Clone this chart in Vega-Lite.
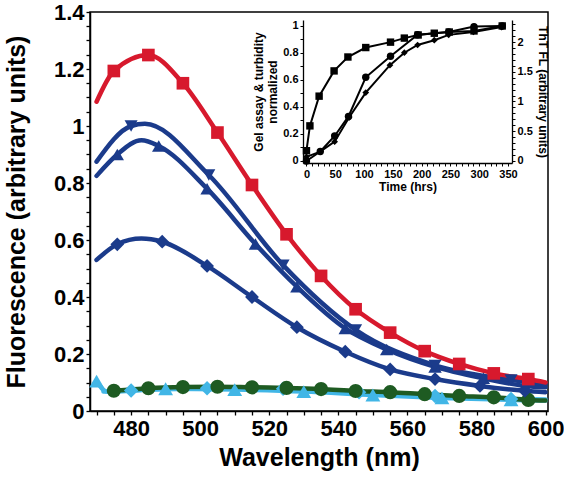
{
  "$schema": "https://vega.github.io/schema/vega-lite/v6.json",
  "width": 458,
  "height": 399,
  "autosize": {"type": "none"},
  "padding": {"left": 90, "top": 12, "right": 16, "bottom": 69},
  "background": "white",
  "config": {
    "view": {"stroke": "black", "strokeWidth": 1.5},
    "axis": {
      "labelFont": "Liberation Sans", "titleFont": "Liberation Sans",
      "labelFontWeight": "bold", "titleFontWeight": "bold",
      "labelColor": "black", "titleColor": "black",
      "domainColor": "black", "tickColor": "black", "grid": false,
      "labelOverlap": false, "labelFlush": false
    }
  },
  "datasets": {
    "main": [
      {"s": "s1", "wl": 470, "f": 0.105, "m": 1},
      {"s": "s1", "wl": 473, "f": 0.068, "m": 0},
      {"s": "s1", "wl": 490, "f": 0.078, "m": 1},
      {"s": "s1", "wl": 510, "f": 0.075, "m": 1},
      {"s": "s1", "wl": 530, "f": 0.068, "m": 1},
      {"s": "s1", "wl": 550, "f": 0.056, "m": 1},
      {"s": "s1", "wl": 570, "f": 0.046, "m": 1},
      {"s": "s1", "wl": 590, "f": 0.039, "m": 1},
      {"s": "s1", "wl": 600, "f": 0.037, "m": 0},
      {"s": "s2", "wl": 472, "f": 0.068, "m": 0},
      {"s": "s2", "wl": 480, "f": 0.072, "m": 1},
      {"s": "s2", "wl": 502, "f": 0.08, "m": 1},
      {"s": "s2", "wl": 524, "f": 0.078, "m": 1},
      {"s": "s2", "wl": 546, "f": 0.066, "m": 1},
      {"s": "s2", "wl": 568, "f": 0.053, "m": 1},
      {"s": "s2", "wl": 590, "f": 0.042, "m": 1},
      {"s": "s2", "wl": 600, "f": 0.04, "m": 0},
      {"s": "s3", "wl": 475, "f": 0.071, "m": 1},
      {"s": "s3", "wl": 485, "f": 0.08, "m": 1},
      {"s": "s3", "wl": 495, "f": 0.084, "m": 1},
      {"s": "s3", "wl": 505, "f": 0.085, "m": 1},
      {"s": "s3", "wl": 515, "f": 0.083, "m": 1},
      {"s": "s3", "wl": 525, "f": 0.081, "m": 1},
      {"s": "s3", "wl": 535, "f": 0.077, "m": 1},
      {"s": "s3", "wl": 545, "f": 0.07, "m": 1},
      {"s": "s3", "wl": 555, "f": 0.066, "m": 1},
      {"s": "s3", "wl": 565, "f": 0.059, "m": 1},
      {"s": "s3", "wl": 575, "f": 0.053, "m": 1},
      {"s": "s3", "wl": 585, "f": 0.048, "m": 1},
      {"s": "s3", "wl": 595, "f": 0.039, "m": 1},
      {"s": "s3", "wl": 600, "f": 0.037, "m": 0},
      {"s": "s4", "wl": 470, "f": 0.53, "m": 0},
      {"s": "s4", "wl": 476, "f": 0.585, "m": 1},
      {"s": "s4", "wl": 483, "f": 0.605, "m": 0},
      {"s": "s4", "wl": 489, "f": 0.594, "m": 1},
      {"s": "s4", "wl": 502, "f": 0.509, "m": 1},
      {"s": "s4", "wl": 515, "f": 0.4, "m": 1},
      {"s": "s4", "wl": 528, "f": 0.294, "m": 1},
      {"s": "s4", "wl": 542, "f": 0.208, "m": 1},
      {"s": "s4", "wl": 555, "f": 0.146, "m": 1},
      {"s": "s4", "wl": 568, "f": 0.112, "m": 1},
      {"s": "s4", "wl": 581, "f": 0.088, "m": 1},
      {"s": "s4", "wl": 594, "f": 0.071, "m": 1},
      {"s": "s4", "wl": 600, "f": 0.066, "m": 0},
      {"s": "s5", "wl": 470, "f": 0.825, "m": 0},
      {"s": "s5", "wl": 476, "f": 0.9, "m": 1},
      {"s": "s5", "wl": 483, "f": 0.95, "m": 0},
      {"s": "s5", "wl": 488, "f": 0.93, "m": 1},
      {"s": "s5", "wl": 502, "f": 0.78, "m": 1},
      {"s": "s5", "wl": 516, "f": 0.586, "m": 1},
      {"s": "s5", "wl": 528, "f": 0.436, "m": 1},
      {"s": "s5", "wl": 542, "f": 0.29, "m": 1},
      {"s": "s5", "wl": 554, "f": 0.216, "m": 1},
      {"s": "s5", "wl": 568, "f": 0.155, "m": 1},
      {"s": "s5", "wl": 582, "f": 0.115, "m": 1},
      {"s": "s5", "wl": 594, "f": 0.088, "m": 1},
      {"s": "s5", "wl": 600, "f": 0.083, "m": 0},
      {"s": "s6", "wl": 470, "f": 0.875, "m": 0},
      {"s": "s6", "wl": 480, "f": 1.0, "m": 1},
      {"s": "s6", "wl": 484, "f": 1.008, "m": 0},
      {"s": "s6", "wl": 502.5, "f": 0.828, "m": 1},
      {"s": "s6", "wl": 524, "f": 0.512, "m": 1},
      {"s": "s6", "wl": 545, "f": 0.285, "m": 1},
      {"s": "s6", "wl": 568, "f": 0.16, "m": 1},
      {"s": "s6", "wl": 590, "f": 0.109, "m": 1},
      {"s": "s6", "wl": 600, "f": 0.095, "m": 0},
      {"s": "s7", "wl": 470, "f": 1.085, "m": 0},
      {"s": "s7", "wl": 475, "f": 1.193, "m": 1},
      {"s": "s7", "wl": 485, "f": 1.249, "m": 1},
      {"s": "s7", "wl": 495, "f": 1.15, "m": 1},
      {"s": "s7", "wl": 505, "f": 0.977, "m": 1},
      {"s": "s7", "wl": 515, "f": 0.793, "m": 1},
      {"s": "s7", "wl": 525, "f": 0.62, "m": 1},
      {"s": "s7", "wl": 535, "f": 0.474, "m": 1},
      {"s": "s7", "wl": 545, "f": 0.357, "m": 1},
      {"s": "s7", "wl": 555, "f": 0.275, "m": 1},
      {"s": "s7", "wl": 565, "f": 0.21, "m": 1},
      {"s": "s7", "wl": 575, "f": 0.165, "m": 1},
      {"s": "s7", "wl": 585, "f": 0.132, "m": 1},
      {"s": "s7", "wl": 595, "f": 0.112, "m": 1},
      {"s": "s7", "wl": 600, "f": 0.1, "m": 0}
    ],
    "inset": [
      {"s": "sq", "t": 0, "v": 0.076},
      {"s": "sq", "t": 6, "v": 0.26},
      {"s": "sq", "t": 22, "v": 0.48},
      {"s": "sq", "t": 48, "v": 0.667},
      {"s": "sq", "t": 72, "v": 0.77},
      {"s": "sq", "t": 103, "v": 0.84},
      {"s": "sq", "t": 146, "v": 0.88},
      {"s": "sq", "t": 170, "v": 0.91},
      {"s": "sq", "t": 194, "v": 0.933},
      {"s": "sq", "t": 222, "v": 0.946},
      {"s": "sq", "t": 248, "v": 0.955},
      {"s": "sq", "t": 291, "v": 0.963},
      {"s": "sq", "t": 340, "v": 1.0},
      {"s": "ci", "t": 0, "v": 0.0},
      {"s": "ci", "t": 24, "v": 0.07},
      {"s": "ci", "t": 49, "v": 0.185},
      {"s": "ci", "t": 73, "v": 0.33},
      {"s": "ci", "t": 103, "v": 0.62},
      {"s": "ci", "t": 146, "v": 0.775},
      {"s": "ci", "t": 193, "v": 0.935},
      {"s": "ci", "t": 247, "v": 0.955},
      {"s": "ci", "t": 291, "v": 0.995},
      {"s": "ci", "t": 340, "v": 1.0},
      {"s": "di", "t": 0, "v": 0.07},
      {"s": "di", "t": 24, "v": 0.157},
      {"s": "di", "t": 49, "v": 0.325},
      {"s": "di", "t": 74, "v": 0.73},
      {"s": "di", "t": 103, "v": 1.15},
      {"s": "di", "t": 145, "v": 1.61},
      {"s": "di", "t": 170, "v": 1.82},
      {"s": "di", "t": 193, "v": 1.95},
      {"s": "di", "t": 222, "v": 2.03},
      {"s": "di", "t": 247, "v": 2.12},
      {"s": "di", "t": 290, "v": 2.17},
      {"s": "di", "t": 339, "v": 2.25}
    ]
  },
  "layer": [
    {
      "data": {"name": "main"},
      "encoding": {
        "x": {
          "field": "wl", "type": "quantitative",
          "scale": {"domain": [468.1, 600.7], "nice": false, "zero": false},
          "axis": {
            "orient": "bottom",
            "values": [470,475,480,485,490,495,500,505,510,515,520,525,530,535,540,545,550,555,560,565,570,575,580,585,590,595,600],
            "labelExpr": "datum.value % 20 == 0 ? datum.label : ''",
            "format": "d",
            "title": "Wavelength (nm)",
            "tickSize": 4, "tickWidth": 1.3, "domainWidth": 1.5,
            "labelFontSize": 22, "titleFontSize": 25,
            "labelPadding": 3, "titlePadding": 6
          }
        },
        "y": {
          "field": "f", "type": "quantitative",
          "scale": {"domain": [0, 1.4], "nice": false},
          "axis": {
            "orient": "left",
            "values": [0,0.05,0.1,0.15,0.2,0.25,0.3,0.35,0.4,0.45,0.5,0.55,0.6,0.65,0.7,0.75,0.8,0.85,0.9,0.95,1,1.05,1.1,1.15,1.2,1.25,1.3,1.35,1.4],
            "labelExpr": "round(datum.value*100) % 20 == 0 ? datum.label : ''",
            "format": "~g",
            "title": "Fluorescence (arbitrary units)",
            "tickSize": 4, "tickWidth": 1.3, "domainWidth": 1.5,
            "labelFontSize": 22, "titleFontSize": 25,
            "labelPadding": 2, "titlePadding": 24
          }
        },
        "color": {
          "field": "s", "type": "nominal", "legend": null,
          "scale": {
            "domain": ["s1","s2","s3","s4","s5","s6","s7"],
            "range": ["#41b6e6","#41b6e6","#1e5b22","#1b3b8b","#1b3b8b","#1b3b8b","#d7192d"]
          }
        }
      },
      "layer": [
        {
          "mark": {"type": "line", "interpolate": "monotone", "strokeCap": "round", "strokeJoin": "round"},
          "encoding": {
            "strokeWidth": {
              "field": "s", "type": "nominal", "legend": null,
              "scale": {"domain": ["s1","s2","s3","s4","s5","s6","s7"], "range": [4.5,4.5,1.6,4,4,4,4]}
            }
          }
        },
        {
          "transform": [{"filter": "datum.m == 1"}],
          "mark": {"type": "point", "filled": true, "opacity": 1},
          "encoding": {
            "shape": {
              "field": "s", "type": "nominal", "legend": null,
              "scale": {"domain": ["s1","s2","s3","s4","s5","s6","s7"], "range": ["triangle-up","diamond","circle","diamond","triangle-up","triangle-down","square"]}
            },
            "size": {
              "field": "s", "type": "nominal", "legend": null,
              "scale": {"domain": ["s1","s2","s3","s4","s5","s6","s7"], "range": [220,160,170,240,290,290,210]}
            }
          }
        }
      ]
    },
    {
      "data": {"name": "inset"},
      "encoding": {
        "x": {
          "field": "t", "type": "quantitative",
          "scale": {"domain": [-6, 357], "range": [213, 422], "nice": false, "zero": false},
          "axis": {
            "orient": "bottom", "offset": -248,
            "values": [0,10,20,30,40,50,60,70,80,90,100,110,120,130,140,150,160,170,180,190,200,210,220,230,240,250,260,270,280,290,300,310,320,330,340,350],
            "labelExpr": "datum.value % 50 == 0 ? datum.label : ''",
            "format": "d",
            "title": "Time (hrs)",
            "tickSize": 3, "tickWidth": 1, "domainWidth": 1.3,
            "labelFontSize": 11, "titleFontSize": 12,
            "labelPadding": 2, "titlePadding": 2
          }
        }
      },
      "layer": [
        {
          "transform": [{"filter": "datum.s != 'di'"}],
          "encoding": {
            "y": {
              "field": "v", "type": "quantitative",
              "scale": {"domain": [-0.015, 1.044], "range": [151, 8], "nice": false, "zero": false},
              "axis": {
                "orient": "left", "offset": -213,
                "values": [0,0.1,0.2,0.3,0.4,0.5,0.6,0.7,0.8,0.9,1],
                "labelExpr": "round(datum.value*10) % 2 == 0 ? datum.label : ''",
                "format": "~g",
                "title": ["Gel assay & turbidity", "normalized"],
                "titleLineHeight": 14,
                "tickSize": 3, "tickWidth": 1, "domainWidth": 1.3,
                "labelFontSize": 11, "titleFontSize": 12,
                "labelPadding": 2, "titlePadding": 3
              }
            },
            "detail": {"field": "s", "type": "nominal"}
          },
          "layer": [
            {"mark": {"type": "line", "color": "black", "strokeWidth": 2}},
            {
              "mark": {"type": "point", "filled": true, "opacity": 1, "color": "black"},
              "encoding": {
                "shape": {
                  "field": "s", "type": "nominal", "legend": null,
                  "scale": {"domain": ["sq","ci"], "range": ["square","circle"]}
                },
                "size": {"value": 55}
              }
            }
          ]
        },
        {
          "transform": [{"filter": "datum.s == 'di'"}],
          "encoding": {
            "y": {
              "field": "v", "type": "quantitative",
              "scale": {"domain": [-0.034, 2.37], "range": [151, 8], "nice": false, "zero": false},
              "axis": {
                "orient": "right", "offset": -36,
                "values": [0,0.1,0.2,0.3,0.4,0.5,0.6,0.7,0.8,0.9,1,1.1,1.2,1.3,1.4,1.5,1.6,1.7,1.8,1.9,2,2.1,2.2,2.3],
                "labelExpr": "round(datum.value*10) % 5 == 0 ? datum.label : ''",
                "format": "~g",
                "title": "ThT FL (arbitrary units)",
                "titleAngle": 90,
                "tickSize": 3, "tickWidth": 1, "domainWidth": 1.3,
                "labelFontSize": 11, "titleFontSize": 12,
                "labelPadding": 2, "titlePadding": 3
              }
            }
          },
          "layer": [
            {"mark": {"type": "line", "color": "black", "strokeWidth": 2}},
            {"mark": {"type": "point", "filled": true, "opacity": 1, "color": "black", "shape": "diamond", "size": 45}}
          ]
        }
      ],
      "resolve": {"scale": {"y": "independent"}, "axis": {"y": "independent"}}
    }
  ],
  "resolve": {
    "scale": {"x": "independent", "y": "independent", "color": "independent", "shape": "independent", "size": "independent", "strokeWidth": "independent"},
    "axis": {"x": "independent", "y": "independent"}
  }
}
